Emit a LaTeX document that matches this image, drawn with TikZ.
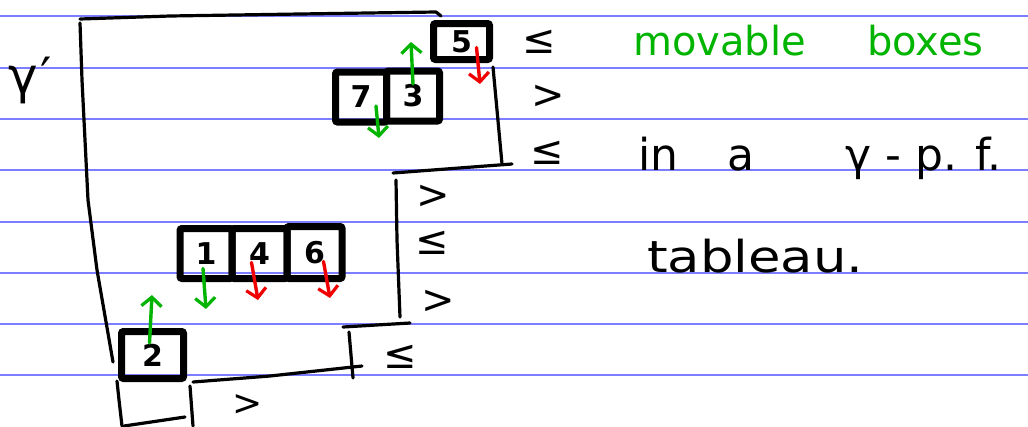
\documentclass[tikz,border=0pt]{standalone}
\usepackage{fontspec}
\setmainfont{DejaVu Sans}
\usepackage{graphicx}
\usetikzlibrary{arrows.meta,calc}

\definecolor{rule}{RGB}{125,125,255}
\definecolor{ink}{RGB}{0,0,0}
\definecolor{pengreen}{RGB}{0,180,0}
\definecolor{penred}{RGB}{240,0,0}

\tikzset{
  outline/.style={draw=ink, line width=3.2pt, line cap=round, line join=round},
  cell/.style={draw=ink, line width=7pt, rounded corners=2pt, inner sep=0pt,
    font=\fontsize{30}{32}\selectfont\bfseries},
  rel/.style={inner sep=0pt, font=\fontsize{40}{42}\selectfont},
  words/.style={inner sep=0pt, anchor=base west, font=\fontsize{44}{48}\selectfont},
  greenwords/.style={words, text=pengreen, font=\fontsize{40}{44}\selectfont},
  mover/.style={line width=3.4pt, line cap=round,
    -{Straight Barb[length=9pt,width=20pt,line width=3.2pt]}},
  up/.style={mover, draw=pengreen},
  downgood/.style={mover, draw=pengreen},
  downbad/.style={mover, draw=penred},
}

\begin{document}
\begin{tikzpicture}[x=1pt, y=-1pt]
  \useasboundingbox (0,0) rectangle (1028,426);
  \fill[white] (0,0) rectangle (1028,426);

  % ruled paper
  \foreach \yy in {16,68,119,170,222,273,324,375}
    \draw[rule, line width=1.6pt] (0,\yy) -- (1028,\yy);

  % shape of gamma'
  \draw[outline] (80,19) -- (170,16) -- (300,14) -- (436,12) -- (441,16);
  \draw[outline] (80,23) -- (82,80) -- (88,200) -- (97,270) -- (113,362);
  \draw[outline] (117,381) -- (119,400) -- (122,426);
  \draw[outline] (493,67) -- (497,110) -- (502,164);
  \draw[outline] (393,173) -- (512,164);
  \draw[outline] (396,180) -- (397,240) -- (400,317);
  \draw[outline] (343,327) -- (410,323);
  \draw[outline] (349,332) -- (353,378);
  \draw[outline] (193,382) -- (270,376) -- (362,366);
  \draw[outline] (190,386) -- (193,426);
  \draw[outline] (124,426) -- (185,417);

  \node[font=\fontsize{50}{54}\selectfont, inner sep=0pt] (gam) at (30,80) {γ\kern2pt′};

  % movable boxes
  \node[cell, minimum width=56pt, minimum height=36pt] (b5) at (461.5,41.5) {5};
  \node[cell, minimum width=51pt, minimum height=50pt] (b7) at (361,97) {7};
  \node[cell, minimum width=53pt, minimum height=50pt] (b3) at (413,96) {3};
  \node[cell, minimum width=52pt, minimum height=50pt] (b1) at (206,253.5) {1};
  \node[cell, minimum width=55pt, minimum height=50pt] (b4) at (259.5,253.5) {4};
  \node[cell, minimum width=55pt, minimum height=52pt] (b6) at (314.5,252.5) {6};
  \node[cell, minimum width=62pt, minimum height=47pt] (b2) at (152.5,355) {2};

  % free ends of the moves
  \coordinate (e3) at (411,42);
  \coordinate (e5) at (480,84);
  \coordinate (e7) at (379,138);
  \coordinate (e1) at (206,309);
  \coordinate (e4) at (258,300);
  \coordinate (e6) at (330,298);
  \coordinate (e2) at (152,295);

  \draw[up] ($(b3.center)+(0,-12)$) -- (e3);
  \draw[downbad] ($(b5.center)+(15,6)$) -- (e5);
  \draw[downgood] ($(b7.center)+(15,9)$) -- (e7);
  \draw[downgood] ($(b1.center)+(-3,15)$) -- (e1);
  \draw[downbad] ($(b4.center)+(-8,9)$) -- (e4);
  \draw[downbad] ($(b6.center)+(9,9)$) -- (e6);
  \draw[up] ($(b2.center)+(-3,-12)$) -- (e2);

  % row relations
  \node[rel] (r1) at (539,42) {≤};
  \node[rel] (r2) at (548,97) {>};
  \node[rel] (r3) at (547,153) {≤};
  \node[rel] (r4) at (433,197) {>};
  \node[rel] (r5) at (432,243) {≤};
  \node[rel] (r6) at (438,302) {>};
  \node[rel] (r7) at (400,357) {≤};
  \node[rel, font=\fontsize{36}{38}\selectfont] (r8) at (248,405) {>};

  % note
  \node[greenwords] (mov) at (633,55) {movable};
  \node[greenwords] (bxs) at (867,55) {boxes};
  \node[words] (win) at (638,170) {in};
  \node[words] (wa) at (727,170) {a};
  \node[words] (wpf) at (845,170) {γ\kern14pt-\kern14pt p.\kern18pt f.};
  \node[words] (wtab) at (647,272) {\scalebox{1.2}[1]{tableau.}};
\end{tikzpicture}
\end{document}
